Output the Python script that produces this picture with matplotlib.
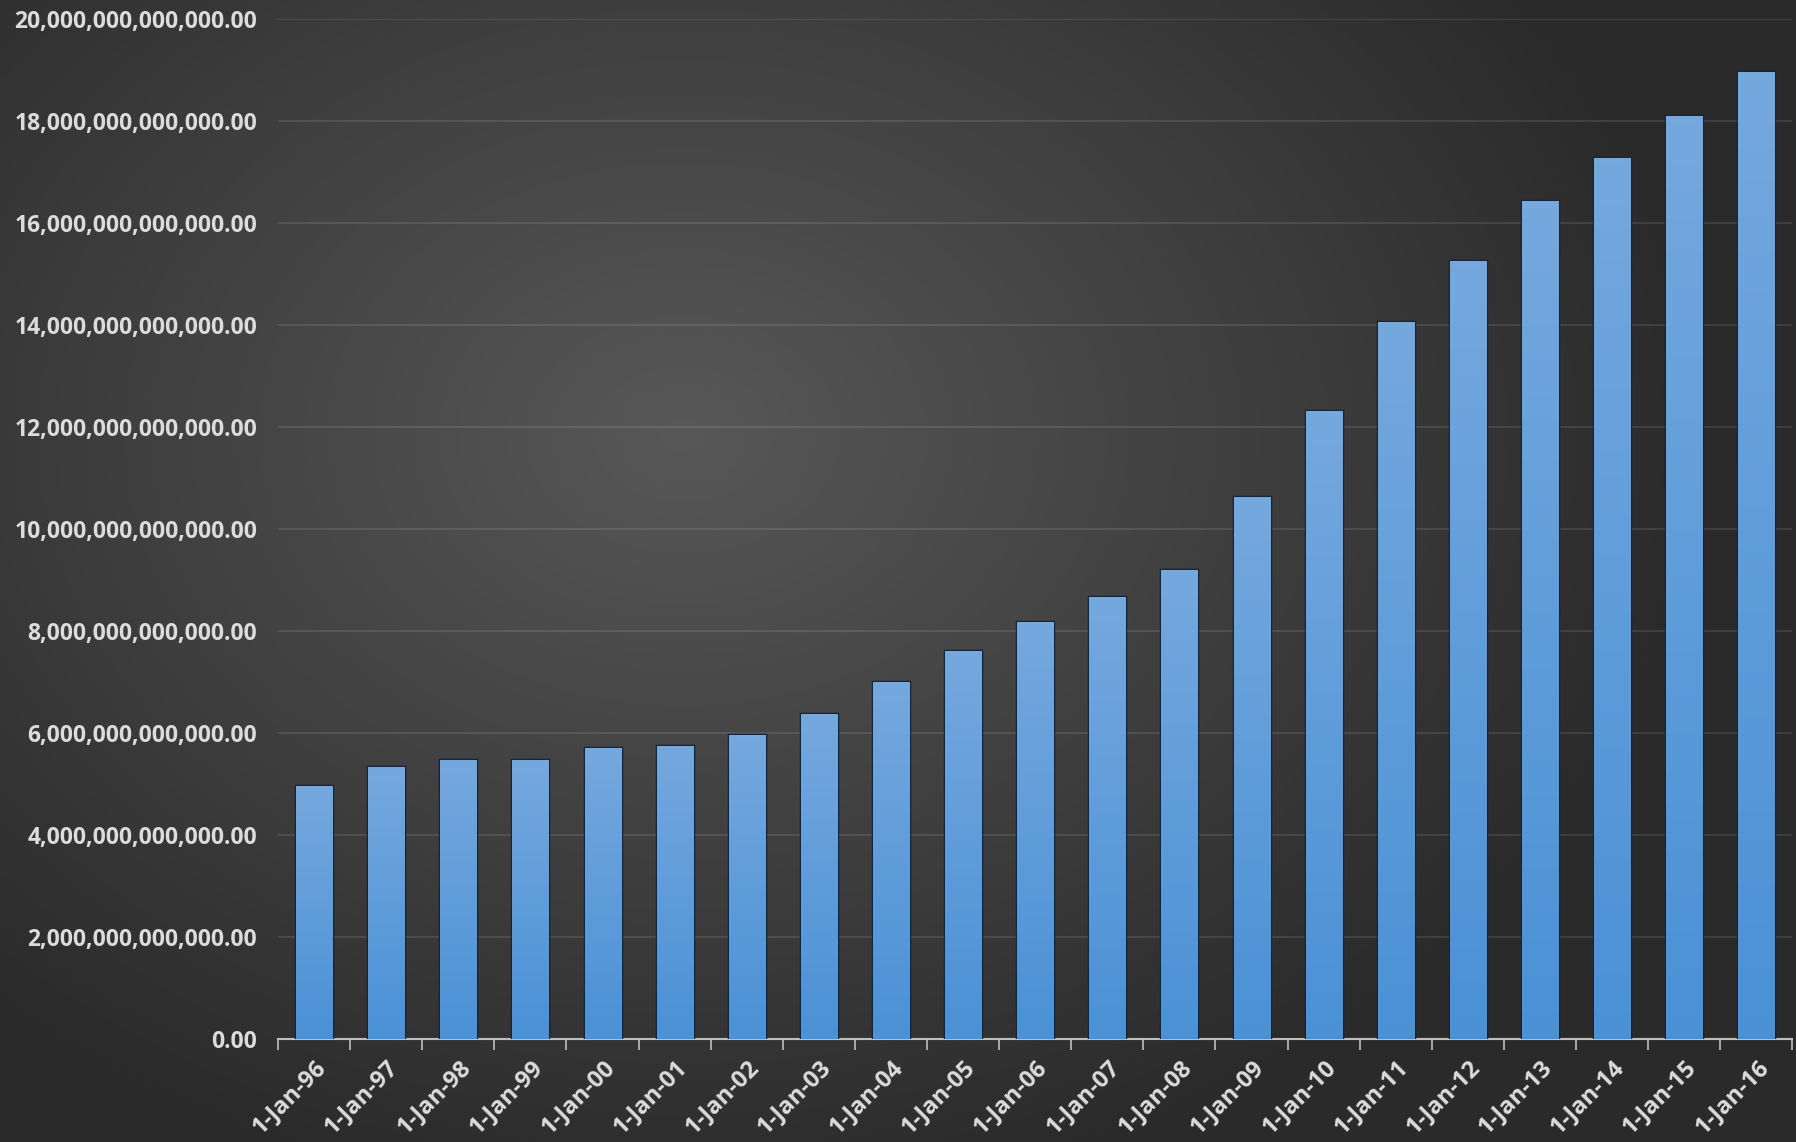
import numpy as np
import matplotlib
matplotlib.use("Agg")
import matplotlib.pyplot as plt
from matplotlib.ticker import FuncFormatter, MultipleLocator

# debt values, trillions
years = ["96", "97", "98", "99", "00", "01", "02", "03", "04", "05", "06",
         "07", "08", "09", "10", "11", "12", "13", "14", "15", "16"]
debt_trillions = [4.97, 5.33, 5.48, 5.48, 5.71, 5.75, 5.96, 6.38, 7.01, 7.62, 8.18,
                  8.67, 9.19, 10.63, 12.31, 14.07, 15.26, 16.43, 17.28, 18.11, 18.97]
labels = ["1-Jan-" + y for y in years]
values = [v * 1e12 for v in debt_trillions]

plt.rcParams['font.family'] = ['Open Sans', 'DejaVu Sans']

fig = plt.figure(figsize=(17.96, 11.42), dpi=100)

# radial dark background, brightest a bit left of and above the middle
bg = fig.add_axes([0, 0, 1, 1], zorder=-10)
gx, gy = np.meshgrid(np.linspace(0, 1, 400), np.linspace(0, 1, 300))
r = np.sqrt(((gx - 0.38) * 1.5) ** 2 + ((gy - 0.62) * 1.25) ** 2)
shade = np.clip(0.345 - 0.21 * r, 0.165, 0.345)
bg.imshow(np.dstack([shade, shade, shade]), aspect='auto', extent=[0, 1, 0, 1],
          origin='lower', interpolation='bicubic')
bg.axis('off')

ax = fig.add_axes([0.1548, 0.0902, 0.8432, 0.8928])
ax.patch.set_alpha(0)

x = np.arange(len(values))
bars = ax.bar(x, values, width=0.5, color='#5b9bdc', edgecolor='#15243a',
              linewidth=2.5, zorder=3)

# vertical gradient inside each bar
grad = np.linspace(0, 1, 256).reshape(-1, 1)
top_c = np.array([0.46, 0.66, 0.87])
bot_c = np.array([0.29, 0.57, 0.84])
for b in bars:
    h = b.get_height()
    img = bot_c + (top_c - bot_c) * grad[:, :, None] * np.ones((1, 1, 3))
    im = ax.imshow(img, aspect='auto', origin='lower', zorder=4,
                   extent=[b.get_x(), b.get_x() + b.get_width(), 0, h])
    im.set_clip_path(b)

ax.set_xlim(-0.5, len(values) - 0.5)
ax.set_ylim(0, 20e12)
ax.yaxis.set_major_locator(MultipleLocator(2e12))
ax.yaxis.set_major_formatter(FuncFormatter(lambda v, p: "{:,.2f}".format(v)))
ax.grid(axis='y', color='white', alpha=0.12, linewidth=1.2, zorder=0)

ax.set_xticks(x)
ax.set_xticklabels(labels, rotation=45, ha='right', rotation_mode='anchor')
ax.set_xticks(np.arange(-0.5, len(values)), minor=True)
ax.tick_params(axis='x', which='major', length=0, pad=12, labelsize=17,
               labelcolor='#dcdcdc')
ax.tick_params(axis='x', which='minor', length=8, color='#bfbfbf', width=1.2)
ax.tick_params(axis='y', length=0, pad=15, labelsize=16.5, labelcolor='#dcdcdc')
for t in ax.get_xticklabels() + ax.get_yticklabels():
    t.set_fontweight('bold')

for s in ['top', 'right', 'left']:
    ax.spines[s].set_visible(False)
ax.spines['bottom'].set_color('#bfbfbf')
ax.spines['bottom'].set_linewidth(1.5)

fig.savefig("out.png", dpi=100)
